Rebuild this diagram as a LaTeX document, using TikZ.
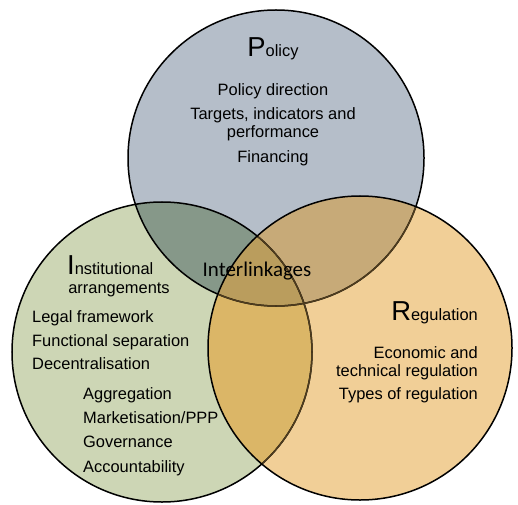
\documentclass[tikz,border=0pt]{standalone}
\usepackage{fontspec}
\setmainfont{Liberation Sans}
\newfontfamily\linkfont{Carlito}
\usepackage{xcolor}
\usetikzlibrary{positioning}

\definecolor{polfill}{RGB}{181,190,201}
\definecolor{instfill}{RGB}{205,214,181}
\definecolor{regfill}{RGB}{241,207,151}
\definecolor{polinst}{RGB}{134,152,137}
\definecolor{polreg}{RGB}{199,170,120}
\definecolor{instreg}{RGB}{219,182,103}
\definecolor{allthree}{RGB}{186,157,93}
\definecolor{underline}{RGB}{78,60,30}

\newcommand{\capletter}[1]{{\fontsize{27.5}{28}\selectfont #1}}

\begin{document}
\begin{tikzpicture}[
  x=1bp, y=-1bp,
  ring/.style={line width=1.5bp},
  lst/.style={inner sep=0pt, text height=12bp, text depth=3.5bp, font=\fontsize{16.5}{18}\selectfont},
  heading/.style={lst, text height=19bp}
]
\useasboundingbox (0,0) rectangle (518,505);

% circle centres
\coordinate (pc) at (276,158);
\coordinate (ic) at (162,352);
\coordinate (rc) at (360,348);

% fills
\fill[polfill] (pc) circle[radius=148bp];
\fill[instfill] (ic) circle[radius=150bp];
\fill[regfill] (rc) circle[radius=152bp];
\begin{scope}
  \clip (ic) circle[radius=150bp];
  \fill[instreg] (rc) circle[radius=152bp];
\end{scope}
\begin{scope}
  \clip (pc) circle[radius=148bp];
  \fill[polinst] (ic) circle[radius=150bp];
  \fill[polreg] (rc) circle[radius=152bp];
  \clip (ic) circle[radius=150bp];
  \fill[allthree] (rc) circle[radius=152bp];
\end{scope}

% outlines
\draw[ring] (pc) circle[radius=148bp];
\draw[ring] (ic) circle[radius=150bp];
\begin{scope}
  \clip (rc) circle[radius=152bp];
  \draw[ring, underline] (pc) circle[radius=148bp];
  \draw[ring, underline] (ic) circle[radius=150bp];
\end{scope}
\draw[ring] (rc) circle[radius=152bp];

% Policy
\node[heading, anchor=base] (poltitle) at (273,57) {\capletter{P}olicy};
\node[lst, anchor=base] (pdir) at (273,96) {Policy direction};
\node[lst, below=7.5bp of pdir] (targets) {Targets, indicators and};
\node[lst, below=2.5bp of targets] (perf) {performance};
\node[lst, below=8.5bp of perf] (fin) {Financing};

% Institutional arrangements
\node[heading, anchor=base west] (insttitle) at (67,274) {\capletter{I}nstitutional};
\node[lst, anchor=base] (arr) at (119,293) {arrangements};
\node[lst, anchor=base west] (legal) at (32,322) {Legal framework};
\node[lst, anchor=base west] (funct) at (32,346) {Functional separation};
\node[lst, anchor=base west] (decent) at (32,369) {Decentralisation};
\node[lst, anchor=base west] (aggr) at (83,399) {Aggregation};
\node[lst, anchor=base west] (market) at (83,423) {Marketisation/PPP};
\node[lst, anchor=base west] (gov) at (83,447) {Governance};
\node[lst, anchor=base west] (account) at (83,472) {Accountability};

% Regulation
\node[heading, anchor=base east] (regtitle) at (478,320) {\capletter{R}egulation};
\node[lst, anchor=base east] (econ) at (478,358) {Economic and};
\node[lst, below=2.5bp of econ.south east, anchor=north east] (tech) {technical regulation};
\node[lst, below=7.5bp of tech.south east, anchor=north east] (types) {Types of regulation};

% centre
\node[anchor=base, inner sep=0pt, font=\linkfont\fontsize{21}{22}\selectfont] (link) at (257,276) {Interlinkages};

\end{tikzpicture}
\end{document}
